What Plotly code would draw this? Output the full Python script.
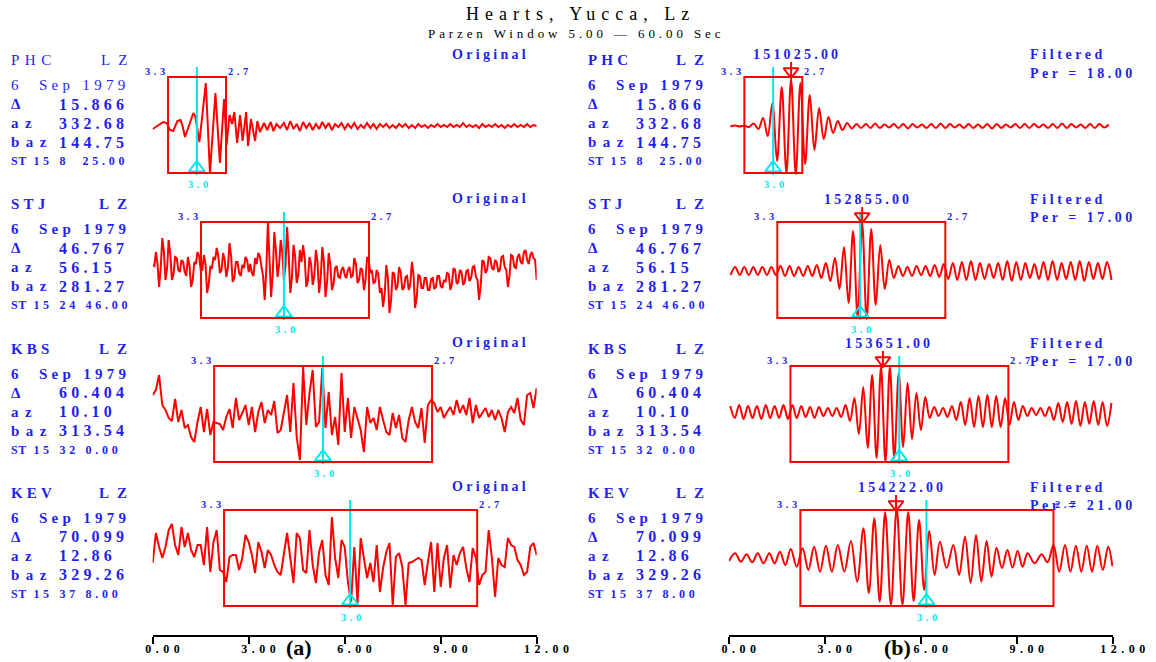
import plotly.graph_objects as go

# ---------------------------------------------------------------- data
STATIONS = ["PHC", "STJ", "KBS", "KEV"]
COMPONENT = "LZ"
DATE = "6\u00a0\u00a0Sep\u00a01979"
DELTA = ["15.866", "46.767", "60.404", "70.099"]
AZ = ["332.68", "56.15", "10.10", "12.86"]
BAZ = ["144.75", "281.27", "313.54", "329.26"]
START = ["15 8\u00a0\u00a025.00", "15 24 46.00", "15 32 0.00", "15 37 8.00"]
PERIOD = ["18.00", "17.00", "17.00", "21.00"]
PEAK_LABEL = ["151025.00", "152855.00", "153651.00", "154222.00"]
PEAK_T = [1.94, 4.16, 4.81, 5.22]           # minutes after record start
WIN_START = [0.48, 1.51, 1.92, 2.23]        # 3.3 km/s arrival
WIN_END = [2.29, 6.76, 8.73, 10.14]         # 2.7 km/s arrival
T_U30 = [1.38, 4.10, 5.32, 6.17]            # 3.0 km/s arrival
VEL_LABELS = ("3.3", "3.0", "2.7")
XTICKS = [0, 3, 6, 9, 12]
XTICKTEXT = ["0.00", "3.00", "6.00", "9.00", "12.00"]

# original traces: PHC (irregular picks + regular tail), others regular dt = 0.1 min
PHC_MAIN_T = [0.00, 0.18, 0.33, 0.44, 0.54, 0.64, 0.77, 0.87, 0.94, 1.01,
              1.14, 1.27, 1.33, 1.46, 1.66, 1.79, 1.96, 2.10, 2.23, 2.31,
              2.40, 2.48, 2.55, 2.64, 2.73, 2.81, 2.92, 2.98, 3.07, 3.20,
              3.27, 3.35, 3.48, 3.58, 3.69, 3.77, 3.87, 3.98]
PHC_MAIN_A = [-4, 0, 3, 2, -5, -6, 4, 5, -2, -12,
              0, 12, 9, -17, 42, -48, 32, -38, 26, -20,
              10, 1, 13, -18, 10, -16, 13, -21, 6, -16,
              4, -7, 2, -5, 3, -6, 1, -3]
PHC_TAIL_T0 = 4.1
PHC_TAIL_A = [2, -5, 4, -4, 1, -6, 3, -3, 2, -5, 1, -4, 3, -3, 2, -5, 1, -2, 2, -4,
              1, -3, 2, -4, 0, -3, 2, -3, 1, -4, 1, -2, 1, -3, 0, -3, 1, -2, 1, -3,
              0, -3, 1, -2, 0, -3, 0, -2, 1, -2, 0, -2, 1, -2, 0, -2, 2, -2, 0, -2,
              0, -3, 1, -2, 0, -2, 1, -2, 0, -3, 0, -2, 1, -2, 0, -2, 1, -2, 0, -1]
ORIG_DT = 0.1
STJ_ORIG = [5, 18, -17, 32, -10, 30, -10, 13, 0, 10, -2,
            13, -17, 8, 18, 0, 15, -23, 3, 13, 22,
            -3, 17, -7, 27, -12, 8, -3, 5, 13, -2,
            -3, 12, 17, 3, -30, 48, -27, 38, -7, 30,
            -10, 43, -23, 25, -13, 20, 25, -17, 13, -15,
            20, -23, 23, -27, 17, -20, 2, -7, 0, -5,
            0, -7, 12, -13, 2, -20, 13, -3, -13, 0,
            -23, -37, 5, -43, -2, -20, 3, -20, -7, -20,
            8, -38, -5, -18, -8, -20, -9, -19, -6, -16,
            -10, -3, -20, 2, -14, 0, -15, -1, -11, 3,
            -7, -30, 10, -3, 13, 2, 10, -2, 13, 3,
            -17, 15, 3, 13, 8, 18, 10, 15, 12, -10]
# STJ half-step samples (t = 0.05 + 0.1 n): the record is very spiky
STJ_ORIG_MID = [4, 6, 2, 18, 2, 16, -4, 12, -2, 8,
                -6, 4, -10, 6, 14, 0, 6, -14, 2, 10,
                14, 0, 10, 2, 14, -8, 8, -6, 2, 10,
                6, -6, 6, 14, -6, 0, 15, -5, 20, 5,
                18, 5, 15, -8, 14, -5, 8, 12, -10, 6,
                -6, 8, -8, 8, -12, 6, -14, 4, -8, 3,
                -8, 3, -6, 6, -10, 0, -10, 10, 0, -12,
                -4, -18, -24, -8, -30, -4, -16, -2, -18, -6,
                -14, -4, -28, -6, -18, -8, -20, -8, -17, -6,
                -18, -12, -4, -14, 0, -12, -2, -12, 0, -8,
                4, -10, -16, 8, 0, 12, 0, 8, 0, 14,
                0, -6, 14, 2, 16, 6, 20, 6, 18, 10]
KBS_ORIG = [19, 24, 39, 9, 4, -4, -7, 15, -8, 4, -14,
            -11, -23, -28, -8, 7, -18, 5, -21, -8, -9,
            -10, -16, -3, 5, -14, 16, -6, 1, 9, -11,
            7, -18, 2, 12, -9, 4, -1, 13, -19, -16,
            2, 19, -18, 31, -23, -46, 47, -11, 21, 44,
            -13, -8, 46, -14, 22, -21, -3, -31, 41, -18,
            16, -24, 7, -4, -16, -38, 7, -9, -4, -16,
            7, -6, -18, -21, 1, -14, -1, -24, -28, -6,
            7, -8, -14, 6, -29, 9, 14, 11, 2, 7,
            -4, 2, 7, -1, 14, 1, 9, -1, 16, -9,
            9, -4, 1, 6, -3, 4, -6, 4, -4, -18,
            2, 7, 1, 16, -6, -11, 19, 21, 6, 26]
KEV_ORIG = [-5, 25, 11, 0, 11, 28, 34, 13, 3, 31, 11,
            25, 8, 1, 13, 13, -7, 31, -14, 16, 28,
            -12, -14, -24, 1, 3, 3, -12, 0, 23, 16,
            3, -15, 16, 6, -10, 8, 3, -7, -14, -17,
            6, 25, 0, -25, 25, 20, -12, -15, 28, -7,
            -25, 6, 18, -17, -27, 41, 0, -20, 18, 11,
            -24, -44, 11, -45, 20, 0, -20, -5, -24, 13,
            -34, -10, 6, 15, -47, 1, 5, -9, -47, -5,
            -4, -2, 0, -2, -27, -4, 16, -34, 15, -29,
            0, 13, -30, 3, -7, 5, 11, -10, -24, 10,
            0, -27, -17, -14, 28, 0, -39, 0, -7, -9,
            20, 13, 11, -2, -7, -17, -14, 11, 15, 3]

# filtered traces: extrema (half-period steps) drawn with a spline
PHC_FILT_T0, PHC_FILT_DT = 0.042, 0.146
PHC_FILT = [-0.5, 0.5, -0.5, 0.5, -1, 2.5, -3, 8, -10, 23,
            -35, 39, -47, 47, -48, 43, -38, 31, -24, 18,
            -13, 9, -7, 5, -4, 3, -2.5, 2, -2, 2,
            -2, 2.5, -2, 1.5, -1.5, 2, -2, 2, -2.5, 2,
            -1.5, 1.5, -2, 2, -2, 2.5, -2, 2, -1.5, 1.5,
            -2, 2, -2, 1.5, -2, 2, -2.5, 2, -2, 1.5,
            -1.5, 2, -2, 2, -2, 2, -1.5, 1.5, -2, 2,
            -2, 2.5, -2, 2, -1.5, 1.5, -2, 2, -2, 2,
            -1.5, 1.5]
STJ_FILT_T0, STJ_FILT_DT = 0.051, 0.1417
STJ_FILT = [-4, 4, -4, 4, -4, 4, -4, 4, -4, 4,
            -4, 5, -5, 5, -5, 4, -5, 5, -5, 6,
            -7, 8, -10, 13, -18, 24, -32, 40, -46, 48,
            -48, 42, -34, 26, -18, 11, -7, 5, -5, 4,
            -5, 5, -4, 5, -5, 6, -6, 7, -8, 8,
            -9, 9, -9, 10, -9, 8, -8, 7, -7, 8,
            -9, 10, -10, 9, -9, 8, -7, 7, -8, 9,
            -9, 10, -9, 8, -8, 9, -9, 10, -10, 9,
            -8, 8, -8, 9, -9]
KBS_FILT_T0, KBS_FILT_DT = 0.041, 0.1385
KBS_FILT = [6, -6, 7, -7, 6, -6, 6, -7, 7, -6,
            6, -6, 7, -7, 7, -6, 6, -5, 5, -6,
            5, -4, 4, -4, 4, -5, 7, -9, 14, -22,
            25, -36, 37, -46, 45, -50, 45, -46, 39, -35,
            29, -27, 19, -18, 15, -6, 5, -4, 4, -5,
            6, -8, 10, -13, 14, -15, 16, -15, 17, -15,
            16, -15, 14, -13, 10, -8, 6, -4, 4, -3,
            4, -4, 5, -8, 9, -10, 10, -12, 11, -14,
            10, -12, 11, -13, 10, -14, 9]
KEV_FILT_T = [0.0, 0.19, 0.37, 0.55, 0.725, 0.90, 1.08, 1.26, 1.425, 1.59,
              1.76, 1.93, 2.115, 2.30, 2.48, 2.66, 2.845, 3.03, 3.215, 3.40,
              3.605, 3.81, 4.005, 4.20, 4.37, 4.54, 4.71, 4.88, 5.06, 5.24,
              5.42, 5.60, 5.77, 5.94, 6.10, 6.26, 6.425, 6.59, 6.80, 7.01,
              7.19, 7.375, 7.55, 7.72, 7.885, 8.05, 8.205, 8.36, 8.53, 8.70,
              8.86, 9.02, 9.175, 9.33, 9.55, 9.77, 9.955, 10.14, 10.32, 10.50,
              10.67, 10.84, 11.01, 11.18, 11.345, 11.51, 11.68, 11.85, 11.98]
KEV_FILT = [-3, 4.7, -3.7, 3.7, -4.3, 4.7, -5.3, 4.7, -5.3, 6.3,
            -7, 9, -8.7, 9.7, -12, 11.3, -13.7, 12.3, -13.7, 13,
            -13.7, 17, -23.7, 29.7, -35, 39.7, -43.7, 45.7, -47, 49.7,
            -47, 45.7, -43, 38, -32, 27, -17, 16.3, -10, 13,
            -17, 21.3, -25, 23, -23.7, 17, -18.7, 10.3, -10, 8,
            -9.7, 7, -8.7, 4.7, -5.3, 3.7, -4.3, 13, -13.7, 13,
            -13.7, 12.3, -13.7, 12.3, -13.7, 12.3, -12, 11.3, -8]
FILT_BASE = [-1, -1, 2, 0]

# ---------------------------------------------------------------- build series
def regular(t0, dt, vals):
    return [round(t0 + dt * i, 4) for i in range(len(vals))]


def interleave(t_a, a, t_b, b):
    pts = sorted(zip(t_a + t_b, a + b))
    return [p[0] for p in pts], [p[1] for p in pts]


stj_t, stj_a = interleave(regular(0.0, ORIG_DT, STJ_ORIG), STJ_ORIG,
                          regular(0.05, ORIG_DT, STJ_ORIG_MID), STJ_ORIG_MID)
orig = [
    (PHC_MAIN_T + regular(PHC_TAIL_T0, ORIG_DT, PHC_TAIL_A), PHC_MAIN_A + PHC_TAIL_A),
    (stj_t, stj_a),
    (regular(0.0, ORIG_DT, KBS_ORIG), KBS_ORIG),
    (regular(0.0, ORIG_DT, KEV_ORIG), KEV_ORIG),
]
filt = [
    (regular(PHC_FILT_T0, PHC_FILT_DT, PHC_FILT), PHC_FILT),
    (regular(STJ_FILT_T0, STJ_FILT_DT, STJ_FILT), STJ_FILT),
    (regular(KBS_FILT_T0, KBS_FILT_DT, KBS_FILT), KBS_FILT),
    (KEV_FILT_T, KEV_FILT),
]
for t, a in orig + filt:
    assert len(t) == len(a)

# ---------------------------------------------------------------- styling
W, H = 1156, 662
PLOT_H = 635
FONT = "Liberation Serif"
BLUE = "#1f1fef"
CYAN = "#00e6ee"
RED = "#ff0000"
ROW_Y = [0, -145, -289, -433]
BOX_H = 48
ROW_PX = 144.3


def PX(x):
    return x / W


def PY(y):
    return (PLOT_H - y) / PLOT_H


def ls(text, px):
    return f'<span style="letter-spacing:{px}px">{text}</span>'


annotations = []


def add_text(text, x, y, size, spacing=0, color=BLUE, bold=True, xanchor="left",
             xref="paper", yref="paper", xshift=0):
    annotations.append(dict(
        text=ls(text, spacing) if spacing else text, x=x, y=y, xref=xref, yref=yref,
        xanchor=xanchor, yanchor="middle", showarrow=False, xshift=xshift, borderpad=0,
        font=dict(family=FONT, size=size, color=color, weight="bold" if bold else "normal")))


fig = go.Figure()

for side, (xa, ya) in enumerate([("x", "y"), ("x2", "y2")]):
    for r in range(4):
        base = ROW_Y[r]
        if side == 0:
            t, a = orig[r]
            fig.add_trace(go.Scatter(x=t, y=[base + v for v in a], mode="lines",
                                     line=dict(color=RED, width=2), xaxis=xa, yaxis=ya,
                                     hoverinfo="skip"))
        else:
            t, a = filt[r]
            fig.add_trace(go.Scatter(x=t, y=[base + FILT_BASE[r] + v for v in a], mode="lines",
                                     line=dict(color=RED, width=2, shape="spline", smoothing=1.0),
                                     xaxis=xa, yaxis=ya, hoverinfo="skip"))
        # group-velocity window
        fig.add_shape(type="rect", xref=xa, yref=ya, x0=WIN_START[r], x1=WIN_END[r],
                      y0=base - BOX_H, y1=base + BOX_H, line=dict(color=RED, width=2))
        # 3.0 km/s line and marker
        fig.add_trace(go.Scatter(x=[T_U30[r], T_U30[r]], y=[base + BOX_H + 10, base - BOX_H - 2],
                                 mode="lines", line=dict(color=CYAN, width=2), xaxis=xa, yaxis=ya,
                                 hoverinfo="skip"))
        fig.add_trace(go.Scatter(x=[T_U30[r]], y=[base - BOX_H + 5], mode="markers",
                                 marker=dict(symbol="triangle-up-open", size=14, color=CYAN,
                                             line=dict(width=2, color=CYAN)),
                                 xaxis=xa, yaxis=ya, hoverinfo="skip"))
        add_text(VEL_LABELS[0], WIN_START[r], base + 54, 10.5, 3.5, xanchor="right",
                 xref=xa, yref=ya, xshift=2)
        add_text(VEL_LABELS[2], WIN_END[r], base + 54, 10.5, 3.5, xanchor="left",
                 xref=xa, yref=ya, xshift=1)
        add_text(VEL_LABELS[1], T_U30[r], base - 59, 10.5, 3.5, color=CYAN, xanchor="center",
                 xref=xa, yref=ya, xshift=3)
        if side == 1:
            fig.add_trace(go.Scatter(x=[PEAK_T[r], PEAK_T[r]], y=[base + BOX_H + 15, base + BOX_H],
                                     mode="lines", line=dict(color=RED, width=2), xaxis=xa, yaxis=ya,
                                     hoverinfo="skip"))
            fig.add_trace(go.Scatter(x=[PEAK_T[r]], y=[base + BOX_H + 5.5], mode="markers",
                                     marker=dict(symbol="triangle-down-open", size=13, color=RED,
                                                 line=dict(width=2, color=RED)),
                                     xaxis=xa, yaxis=ya, hoverinfo="skip"))
            add_text(PEAK_LABEL[r], PEAK_T[r], base + 71, 14, 3.2, xanchor="center",
                     xref=xa, yref=ya, xshift=6)

# station info blocks
for r in range(4):
    Y = ROW_PX * r
    for side in range(2):
        X = 10 + 577 * side
        reg = (r == 0 and side == 0)
        add_text(STATIONS[r], PX(X), PY(60 + Y), 15, 5.5 if reg else 4.2, bold=not reg)
        add_text(COMPONENT, PX(X + 126), PY(60 + Y), 15, 8, bold=not reg, xanchor="right")
        add_text(DATE, PX(X), PY(85 + Y), 15, 4.3, bold=not reg)
        add_text("\u0394", PX(X), PY(104 + Y), 15)
        add_text(DELTA[r], PX(X + 48), PY(104 + Y), 16, 4.2)
        add_text("az", PX(X), PY(123 + Y), 15, 6.5)
        add_text(AZ[r], PX(X + 48), PY(123 + Y), 16, 4.2)
        add_text("baz", PX(X), PY(142 + Y), 15, 6.5)
        add_text(BAZ[r], PX(X + 48), PY(142 + Y), 16, 4.2)
        annotations.append(dict(
            text=ls("ST", 0.5) + ls("\u00a0" + START[r], 3.7), x=PX(X), y=PY(161 + Y),
            xref="paper", yref="paper", xanchor="left", yanchor="middle", showarrow=False,
            borderpad=0, font=dict(family=FONT, size=12, color=BLUE, weight="bold")))
    add_text("Original", PX(530), PY(54 + Y), 14, 3.3, xanchor="right")
    add_text("Filtered", PX(1029), PY(55 + Y), 14, 3.6)
    add_text("Per = " + PERIOD[r], PX(1029), PY(73 + Y), 14, 3.5)

add_text("Hearts, Yucca, Lz", PX(580), PY(14), 18, 6, color="black", bold=False, xanchor="center")
add_text("Parzen Window 5.00 \u2014 60.00 Sec", PX(576), PY(33), 13, 3.9, color="black",
         bold=False, xanchor="center")
add_text("(a)", PX(299), PY(647), 22, color="black", xanchor="center")
add_text("(b)", PX(897), PY(647), 22, color="black", xanchor="center")

xaxis_common = dict(range=[0, 12], showgrid=False, zeroline=False, showline=True,
                    linecolor="black", linewidth=2, ticks="outside", ticklen=7, tickwidth=2,
                    tickcolor="black", tickvals=XTICKS, automargin=False,
                    ticktext=[ls(s, 4.5) for s in XTICKTEXT], ticklabelshift=12,
                    ticklabelstandoff=-5,
                    tickfont=dict(family=FONT, size=12, color="black", weight="bold"),
                    fixedrange=True)
yaxis_common = dict(range=[-510, 125], visible=False, fixedrange=True, domain=[0, 1],
                    automargin=False)

fig.update_layout(
    template="none", autosize=False,
    width=W, height=H, margin=dict(l=0, r=0, t=0, b=H - PLOT_H, pad=0, autoexpand=False),
    paper_bgcolor="white", plot_bgcolor="white", showlegend=False,
    xaxis=dict(domain=[152.7 / W, 536.7 / W], anchor="y", **xaxis_common),
    xaxis2=dict(domain=[729 / W, 1113 / W], anchor="y2", **xaxis_common),
    yaxis=dict(anchor="x", **yaxis_common),
    yaxis2=dict(anchor="x2", **yaxis_common),
    annotations=annotations,
)

fig.write_html(
    "out.html",
    config={"responsive": False, "displayModeBar": False},
    post_script="document.body.style.margin='0px';document.body.style.padding='0px';"
                "document.body.style.overflow='hidden';",
)
